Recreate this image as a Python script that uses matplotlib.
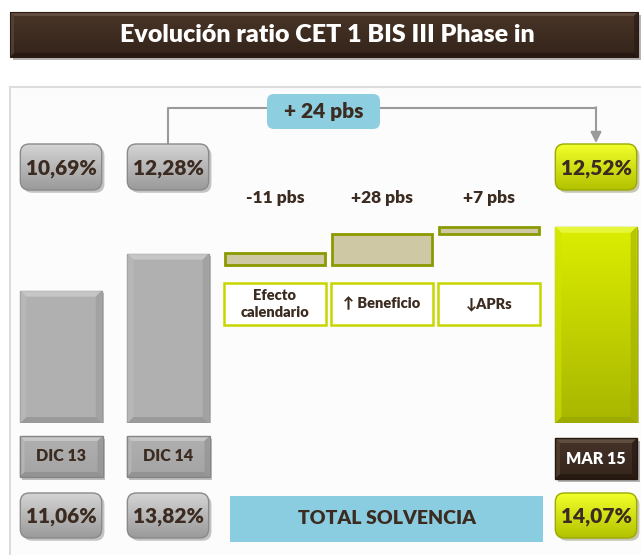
import matplotlib
matplotlib.use("Agg")
import matplotlib.pyplot as plt
import numpy as np
from matplotlib.patches import Rectangle, FancyBboxPatch, Polygon
import matplotlib.patheffects as pe
from matplotlib.colors import to_rgb

# ---------------- data ----------------
title = "Evolución ratio CET 1 BIS III Phase in"
categories = ["DIC 13", "DIC 14", "Efecto calendario", "Beneficio", "APRs", "MAR 15"]
period_labels = ["DIC 13", "DIC 14", "MAR 15"]
cet1_values = [10.69, 12.28, 12.52]
cet1_labels = ["10,69%", "12,28%", "12,52%"]
delta_bps = [-11, 28, 7]
delta_labels = ["-11 pbs", "+28 pbs", "+7 pbs"]
driver_labels = ["Efecto\ncalendario", "↑ Beneficio", "↓APRs"]
total_change_label = "+ 24 pbs"
total_solvency_labels = ["11,06%", "13,82%", "14,07%"]
total_solvency_title = "TOTAL SOLVENCIA"

# ---------------- style ----------------
TXT = "#3b2b21"
FONT = ["Lato", "DejaVu Sans"]
WEIGHT = "heavy"
plt.rcParams["font.family"] = FONT
W, H = 641, 555
LEFT_BASE, LEFT_TOP = 5.0, 19.4      # scale for the period bars
RIGHT_BASE, RIGHT_TOP = 10.71, 13.80  # zoomed scale for the bridge

fig = plt.figure(figsize=(W / 100, H / 100), dpi=100)
fig.patch.set_facecolor("white")
bg = fig.add_axes([0, 0, 1, 1], zorder=0)
bg.set_xlim(0, W)
bg.set_ylim(H, 0)
bg.axis("off")

rect = [7.5 / W, (H - 423) / H, 642 / W, 335 / H]
axL = fig.add_axes(rect, zorder=2)
axR = fig.add_axes(rect, zorder=3)
for a in (axL, axR):
    a.axis("off")
    a.set_xlim(-0.5, 5.5)
axL.set_ylim(LEFT_BASE, LEFT_TOP)
axR.set_ylim(RIGHT_BASE, RIGHT_TOP)

shadow = [pe.SimplePatchShadow(offset=(2, -2), alpha=0.3), pe.Normal()]


def grad(top, bot, n=64):
    t = np.linspace(0, 1, n)[:, None, None]
    return (1 - t) * np.array(to_rgb(top)) + t * np.array(to_rgb(bot))


def box(x0, y0, w, h, top, bot, ec, r=0, lw=1.0, z=2, shade=True):
    style = f"round,pad=0,rounding_size={r}" if r else "square,pad=0"
    p = FancyBboxPatch((x0, y0), w, h, boxstyle=style, fc=top, ec="none",
                       zorder=z, path_effects=shadow if shade else None)
    bg.add_patch(p)
    if top != bot:
        im = bg.imshow(grad(top, bot), extent=(x0, x0 + w, y0 + h, y0),
                       origin="upper", aspect="auto", zorder=z + 0.1,
                       interpolation="bilinear")
        im.set_clip_path(p)
    if ec != "none":
        bg.add_patch(FancyBboxPatch((x0, y0), w, h, boxstyle=style, fc="none",
                                    ec=ec, lw=lw, zorder=z + 0.2))


def bevel(ax, x0, y0, w, h, cols, d=6, z=5, alpha=0.6):
    """Bevel facets (top, right, bottom, left) inside a pixel box; y downwards."""
    x1, y1 = x0 + w, y0 + h
    facets = [
        [(x0, y0), (x1, y0), (x1 - d, y0 + d), (x0 + d, y0 + d)],
        [(x1, y0), (x1, y1), (x1 - d, y1 - d), (x1 - d, y0 + d)],
        [(x0, y1), (x1, y1), (x1 - d, y1 - d), (x0 + d, y1 - d)],
        [(x0, y0), (x0, y1), (x0 + d, y1 - d), (x0 + d, y0 + d)],
    ]
    for f, c in zip(facets, cols):
        ax.add_patch(Polygon(f, closed=True, fc=c, ec="none", alpha=alpha,
                             transform=bg.transData, zorder=z))


def patch_px(p):
    ext = p.get_window_extent()
    (xa, ya), (xb, yb) = bg.transData.inverted().transform(
        [(ext.x0, ext.y0), (ext.x1, ext.y1)])
    return min(xa, xb), min(ya, yb), abs(xb - xa), abs(yb - ya)


def txt(x, y, s, size, color=TXT, **kw):
    bg.text(x, y, s, ha="center", va="center", fontsize=size,
            fontweight=WEIGHT, color=color, zorder=6, **kw)


# ---------------- background / title ----------------
bg.add_patch(Rectangle((10, 87), 700, 600, fc="#fcfcfc", ec="#dddddd", lw=1.5, zorder=0.5))
box(10, 12, 628, 45, "#4a3628", "#33231a", "#2a1c14", lw=0.8, z=1)
bevel(bg, 10, 12, 628, 45, ["#6b584a", "#2a1c14", "#22160f", "#5a4738"], d=4, z=1.15, alpha=0.7)
txt(327, 35, title, 18, color="white")

# ---------------- bars ----------------
xs = np.arange(len(categories))
barsL = axL.bar(xs[:2], np.array(cet1_values[:2]) - LEFT_BASE, bottom=LEFT_BASE,
                width=0.76, color="#b0b0b0", edgecolor="#999999", lw=1)
for b in barsL:
    b.set_path_effects(shadow)

levels = cet1_values[1] + np.concatenate([[0], np.cumsum(np.array(delta_bps) / 100)])
bottoms = np.minimum(levels[:-1], levels[1:])
heights = np.abs(np.diff(levels))
axR.bar(xs[2:5], heights, bottom=bottoms, width=0.93, color="#cec9a4",
        edgecolor="#8a9a00", lw=2)

mar = axR.bar(xs[5], cet1_values[2] - RIGHT_BASE, bottom=RIGHT_BASE, width=0.76,
              color="#c8dc00", edgecolor="#a4b400", lw=1)[0]
mar.set_path_effects(shadow)
im = axR.imshow(grad("#dcee00", "#a8b600"),
                extent=(xs[5] - 0.38, xs[5] + 0.38, RIGHT_BASE, cet1_values[2]),
                origin="upper", aspect="auto", zorder=2.5, interpolation="bilinear")
im.set_clip_path(mar)
axR.set_xlim(-0.5, 5.5)
axR.set_ylim(RIGHT_BASE, RIGHT_TOP)

fig.canvas.draw()
for b in barsL:
    bevel(axL, *patch_px(b), ["#d6d6d6", "#9a9a9a", "#8c8c8c", "#bcbcbc"], d=6)
bevel(axR, *patch_px(mar), ["#eeff60", "#a0ae00", "#96a200", "#d0e400"], d=6)


def px_x(i):
    return bg.transData.inverted().transform(axL.transData.transform((i, LEFT_BASE)))[0]


def px_w(i, w):
    return px_x(i + w / 2) - px_x(i - w / 2)


# ---------------- labels ----------------
period_idx = [0, 1, 5]
bw = px_w(0, 0.76)
for k, i in enumerate(period_idx):
    cx = px_x(i)
    if k < 2:
        top_c, bot_c, ec = "#d4d4d4", "#9a9a9a", "#8a8a8a"
    else:
        top_c, bot_c, ec = "#f2ff2a", "#b2c200", "#9aaa00"
    box(cx - bw / 2, 144, bw, 46, top_c, bot_c, ec, r=9, z=2)
    txt(cx, 168, cet1_labels[k], 15)
    box(cx - bw / 2, 493, bw, 45, top_c, bot_c, ec, r=9, z=2)
    txt(cx, 516, total_solvency_labels[k], 15)
    if k < 2:
        box(cx - 41.5, 436, 83, 41, "#b0b0b0", "#a4a4a4", "#858585", z=2)
        bevel(bg, cx - 41.5, 436, 83, 41, ["#d6d6d6", "#8e8e8e", "#888888", "#bdbdbd"], d=5, z=2.15)
        txt(cx, 456, period_labels[k], 11.5)
    else:
        box(cx - 41, 438, 82, 41, "#46332a", "#34251b", "#23170f", z=2)
        bevel(bg, cx - 41, 438, 82, 41, ["#75614f", "#22160f", "#1c120c", "#5a4636"], d=5, z=2.15)
        txt(cx, 459, period_labels[k], 11.5, color="white")

for k, i in enumerate([2, 3, 4]):
    cx = px_x(i)
    txt(cx, 198, delta_labels[k], 12.5)
    box(cx - 51, 283, 102, 42, "white", "white", "#c8d600", lw=1.8, z=2, shade=False)
    txt(cx, 304, driver_labels[k], 10.5, linespacing=1.35)

# connector + total change
c1, c5 = px_x(1), px_x(5)
lc = "#9a9a9a"
bg.plot([c1, c1, 270], [144, 108, 108], color=lc, lw=1.5, zorder=1.5)
bg.plot([378, c5], [108, 108], color=lc, lw=1.5, zorder=1.5)
bg.annotate("", xy=(c5, 143), xytext=(c5, 107.3),
            arrowprops=dict(arrowstyle="-|>", color=lc, lw=1.5,
                            mutation_scale=16, shrinkA=0, shrinkB=0), zorder=1.5)
box(267, 94, 113, 35, "#8dcfe0", "#8dcfe0", "none", r=7, z=2, shade=False)
txt(323.5, 111.5, total_change_label, 15)

bg.add_patch(Rectangle((230, 496), 313, 46, fc="#8bcde0", ec="none", zorder=2))
txt(386.5, 519, total_solvency_title, 14)

bg.set_xlim(0, W)
bg.set_ylim(H, 0)
fig.savefig("out.png", dpi=100)
